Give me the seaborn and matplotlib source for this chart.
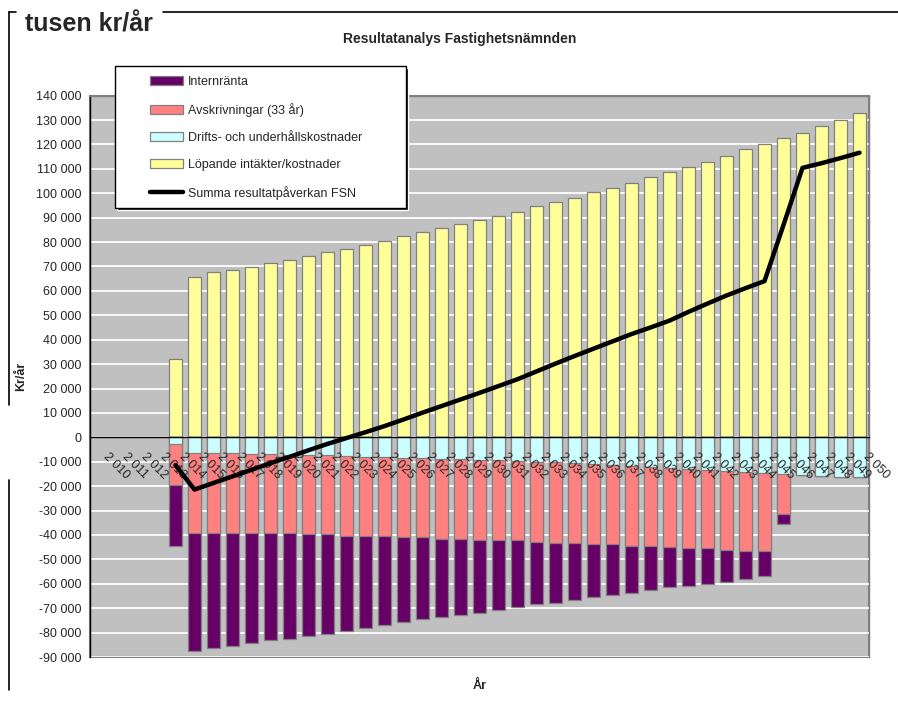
import numpy as np
import pandas as pd
import seaborn as sns
import matplotlib.pyplot as plt
import matplotlib.transforms as mtransforms
from matplotlib.patches import Rectangle
from matplotlib.lines import Line2D

sns.set_style("white")
plt.rcParams['font.family'] = ['Liberation Sans', 'DejaVu Sans']

# ---- data (kr/år) ----
ar_axel = list(range(2010, 2051))      # kategorier på x-axeln
ar = list(range(2014, 2051))           # år med värden

lopande = [32000, 65800, 67600, 68700, 69800, 71500, 72600, 74400, 76000, 77100,
           78900, 80500, 82300, 84000, 85700, 87400, 89100, 90800, 92400, 94800,
           96400, 98200, 100400, 102100, 104300, 106600, 108800, 110600, 112900, 115100,
           118000, 120200, 122500, 124800, 127500, 129900, 132700]
drift = [-2900, -6600, -6600, -6600, -6900, -7000, -7200, -7300, -7400, -7600,
         -8000, -8000, -8400, -8600, -8800, -9000, -9100, -9300, -9600, -10000,
         -10300, -10700, -11000, -11400, -11700, -12100, -12500, -12900, -13200, -13700,
         -14100, -14500, -15100, -15500, -15900, -16200, -16400]
avskrivning = [-16700, -32400, -32400, -32400, -32500, -32400, -32200, -32500, -32400, -32900,
               -32500, -32500, -32600, -32400, -32800, -32600, -33000, -32800, -32500, -32800,
               -33100, -32700, -32900, -32500, -32800, -32400, -32500, -32500, -32200, -32400,
               -32500, -32100, -16400, 0, 0, 0, 0]
internranta = [-25000, -48500, -47500, -46400, -44800, -43700, -43200, -41700, -40600, -38700,
               -37600, -36300, -34700, -33600, -32000, -31300, -29700, -28700, -27400, -25600,
               -24400, -23300, -21700, -20500, -19400, -18200, -16500, -15600, -14500, -13200,
               -11500, -10400, -4100, 0, 0, 0, 0]
summa = [-11400, -21400, -18700, -16000, -13300, -10600, -8000, -5300, -2700, -300,
         2100, 4600, 7300, 10100, 12800, 15500, 18200, 21000, 23800, 27000,
         30200, 33300, 36300, 39300, 42300, 45000, 47800, 51400, 54800, 58100,
         61100, 64000, 87000, 110400, 112300, 114400, 116600]

df = pd.DataFrame({"Ar": ar, "Lopande": lopande, "Drift": drift,
                   "Avskr": avskrivning, "Ranta": internranta, "Summa": summa})
# staplade negativa staplar -> kumulativa höjder
df["neg1"] = df.Drift
df["neg2"] = df.Drift + df.Avskr
df["neg3"] = df.neg2 + df.Ranta

c_ranta = "#660066"
c_avskr = "#FF8080"
c_drift = "#CCFFFF"
c_lop = "#FFFF99"
c_edge = "#808080"

W, H = 898, 702
def fx(x): return x / W
def fy(y): return 1 - y / H

fig = plt.figure(figsize=(W / 100, H / 100), dpi=100)
ax = fig.add_axes([fx(90), fy(657), fx(869) - fx(90), fy(95.6) - fy(657)])
ax.set_facecolor("#C0C0C0")

bar_kw = dict(native_scale=True, width=0.67, edgecolor=c_edge, linewidth=0.9,
              saturation=1, errorbar=None, ax=ax)
sns.barplot(data=df, x="Ar", y="Lopande", color=c_lop, **bar_kw)
sns.barplot(data=df, x="Ar", y="neg3", color=c_ranta, **bar_kw)
sns.barplot(data=df, x="Ar", y="neg2", color=c_avskr, **bar_kw)
sns.barplot(data=df, x="Ar", y="neg1", color=c_drift, **bar_kw)
sns.lineplot(data=df, x="Ar", y="Summa", color="black", linewidth=3.2, ax=ax, zorder=6)

# ---- axlar ----
ax.set_xlim(2009.5, 2050.5)
ax.set_ylim(-90000, 140000)
yt = np.arange(-90000, 140001, 10000)
ax.set_yticks(yt)
ax.set_yticklabels([f"{v:,}".replace(",", " ") for v in yt], fontsize=9)
ax.yaxis.grid(True, color="white", linewidth=1.3)
ax.xaxis.grid(False)
ax.set_axisbelow(True)
ax.xaxis.set_zorder(4)   # årtalen ovanpå staplarna, rutnätet under

ax.spines["bottom"].set_position(("data", 0))
ax.spines["bottom"].set_color("black")
ax.spines["bottom"].set_zorder(3)
ax.spines["left"].set_color("black")
ax.spines["top"].set_color(c_edge)
ax.spines["right"].set_color(c_edge)
for s in ax.spines.values():
    s.set_linewidth(1)
ax.patch.set_edgecolor(c_edge)
ax.patch.set_linewidth(1.5)

ax.tick_params(axis="y", direction="out", length=4, width=0.8, color="black", pad=2)
ax.set_xticks(ar_axel)
ax.set_xticks(np.arange(2009.5, 2051, 1), minor=True)
ax.tick_params(axis="x", which="major", length=0, pad=13, labelsize=9)
ax.tick_params(axis="x", which="minor", direction="out", length=3.5, width=0.8, color="black")
ax.set_xticklabels([f"{a:,}".replace(",", " ") for a in ar_axel])
offset = mtransforms.ScaledTranslation(6 / 100, 0, fig.dpi_scale_trans)
for lbl in ax.get_xticklabels():
    lbl.set_rotation(-45)
    lbl.set_ha("left")
    lbl.set_va("center")
    lbl.set_rotation_mode("anchor")
    lbl.set_transform(lbl.get_transform() + offset)

ax.set_xlabel("")
ax.set_ylabel("")

# ---- texter ----
fig.text(fx(25), fy(32), "tusen kr/år", fontsize=18, fontweight="bold", va="baseline")
fig.text(fx(460), fy(43), "Resultatanalys Fastighetsnämnden", fontsize=10,
         fontweight="bold", ha="center", va="baseline")
fig.text(fx(21), fy(376), "Kr/år", fontsize=9, fontweight="bold", rotation=90,
         ha="center", va="center")
fig.text(fx(480), fy(686), "År", fontsize=9, fontweight="bold", ha="center", va="center")

# ram runt diagrammet
for xs, ys in [([9, 9], [12, 405]), ([9, 9], [480, 690]), ([9, 16], [12, 12]), ([163, 898], [12, 12])]:
    fig.add_artist(Line2D([fx(x) for x in xs], [fy(y) for y in ys], color="black",
                          linewidth=1.2, transform=fig.transFigure))

# ---- förklaring ----
fig.patches.append(Rectangle((fx(116.5), fy(209.5)), fx(406) - fx(115), fy(66) - fy(208),
                             transform=fig.transFigure, facecolor="black", zorder=4))
fig.patches.append(Rectangle((fx(115), fy(208)), fx(406) - fx(115), fy(66) - fy(208),
                             transform=fig.transFigure, facecolor="white",
                             edgecolor="black", linewidth=1, zorder=4))
handles = [Rectangle((0, 0), 1, 1, facecolor=c, edgecolor=c_edge, linewidth=0.9)
           for c in [c_ranta, c_avskr, c_drift, c_lop]]
handles.append(Line2D([], [], color="black", linewidth=3.2))
labels = ["Internränta", "Avskrivningar (33 år)", "Drifts- och underhållskostnader",
          "Löpande intäkter/kostnader", "Summa resultatpåverkan FSN"]
leg = fig.legend(handles, labels, loc="upper left", bbox_to_anchor=(fx(150), fy(76)),
                 frameon=False, fontsize=9, handlelength=2.65, handleheight=0.7,
                 handletextpad=0.4, labelspacing=1.2, borderpad=0, borderaxespad=0)
leg.set_zorder(5)

fig.savefig("out.png", dpi=100)
